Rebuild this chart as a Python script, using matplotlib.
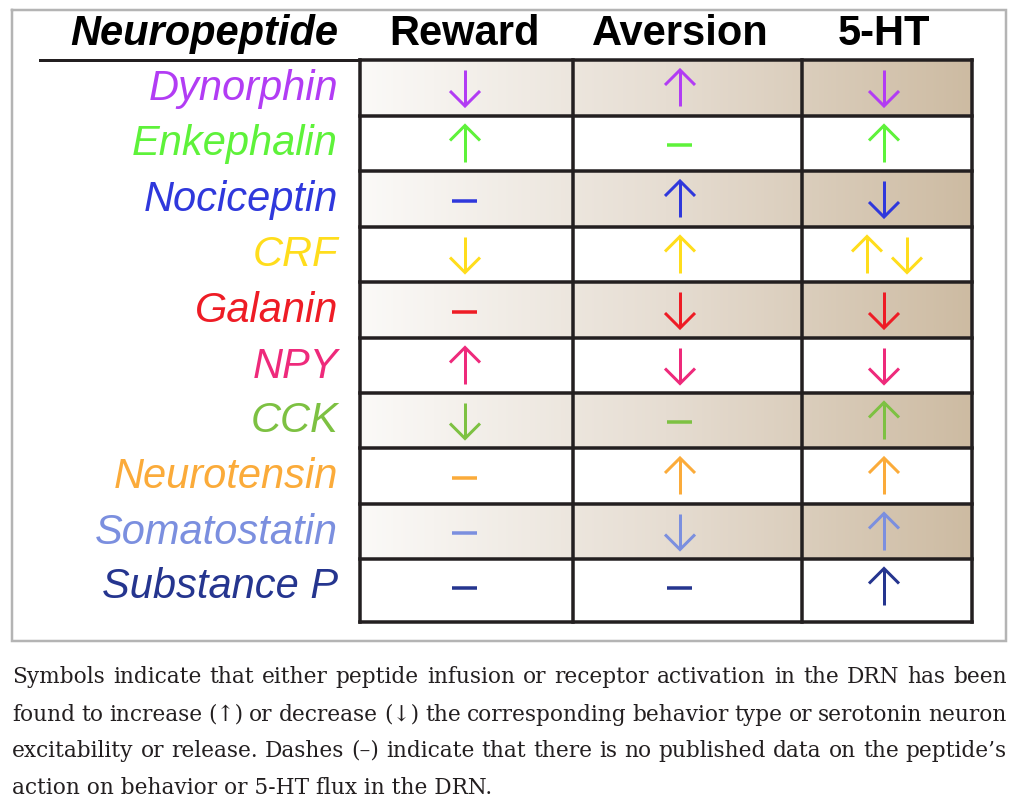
import matplotlib
matplotlib.use('Agg')
import matplotlib.pyplot as plt
import numpy as np
from matplotlib.colors import LinearSegmentedColormap

peptides = ['Dynorphin', 'Enkephalin', 'Nociceptin', 'CRF', 'Galanin',
            'NPY', 'CCK', 'Neurotensin', 'Somatostatin', 'Substance P']
peptideColors = ['#b23cf4', '#5ef23a', '#2f38dc', '#ffdd1c', '#ee1c25',
                 '#ee2a7b', '#7dc142', '#fbab3a', '#7b8fdf', '#25358f']
columns = ['Reward', 'Aversion', '5-HT']
reward = ['down', 'up', 'dash', 'down', 'dash', 'up', 'down', 'dash', 'dash', 'dash']
aversion = ['up', 'dash', 'up', 'up', 'down', 'down', 'dash', 'up', 'down', 'dash']
serotonin = ['down', 'up', 'down', 'updown', 'down', 'down', 'up', 'up', 'up', 'up']
shaded = [True, False, True, False, True, False, True, False, True, False]

caption = [
    "Symbols indicate that either peptide infusion or receptor activation in the DRN has been",
    "found to increase (\u2191) or decrease (\u2193) the corresponding behavior type or serotonin neuron",
    "excitability or release. Dashes (\u2013) indicate that there is no published data on the peptide\u2019s",
    "action on behavior or 5-HT flux in the DRN.",
]

# layout in pixels
W, H = 1019, 808
colEdges = [360, 573, 802, 972]
colMarks = [465, 680, 884]
rowEdges = [60, 116, 171, 227, 282, 338, 393, 448, 504, 559, 622]
labelRight = 338
inkColor = '#231f20'

fig = plt.figure(figsize=(W / 100, H / 100), dpi=100)
ax = fig.add_axes([0, 0, 1, 1])
ax.set_xlim(0, W)
ax.set_ylim(H, 0)
ax.axis('off')

px = 0.72  # points per pixel

# outer grey frame
ax.plot([12, 1006, 1006, 12, 12], [10, 10, 641, 641, 10], color='#b4b4b4',
        lw=2.5 * px, solid_joinstyle='miter')

# gradient on shaded rows
tan = LinearSegmentedColormap.from_list('tan', ['#fbfaf8', '#e6ddd2', '#cdbba2'])
grad = np.linspace(0, 1, 512).reshape(1, -1)
for i, s in enumerate(shaded):
    if s:
        ax.imshow(grad, cmap=tan, aspect='auto', interpolation='bilinear',
                  extent=[colEdges[0], colEdges[-1], rowEdges[i + 1], rowEdges[i]], zorder=1)
ax.set_xlim(0, W)
ax.set_ylim(H, 0)

# grid lines
for y in rowEdges:
    ax.plot([colEdges[0], colEdges[-1]], [y, y], color=inkColor, lw=3.5 * px,
            solid_capstyle='projecting', zorder=3)
for x in colEdges:
    ax.plot([x, x], [rowEdges[0], rowEdges[-1]], color=inkColor, lw=3.5 * px,
            solid_capstyle='projecting', zorder=3)
ax.plot([40, colEdges[0]], [rowEdges[0], rowEdges[0]], color=inkColor, lw=3 * px, zorder=3)

# headers
ax.text(labelRight, 45, 'Neuropeptide', ha='right', va='baseline', fontsize=30,
        fontweight='bold', fontstyle='italic', family='Liberation Sans')
for x, name in zip(colMarks, columns):
    ax.text(x, 45, name, ha='center', va='baseline', fontsize=30,
            fontweight='bold', family='Liberation Sans')


def arrow(x, yc, direction, color):
    half, head = 18, 15
    if direction == 'up':
        tip, tail, sgn = yc - half, yc + half, 1
    else:
        tip, tail, sgn = yc + half, yc - half, -1
    ax.plot([x, x], [tail, tip + sgn * 1], color=color, lw=3 * px,
            solid_capstyle='butt', zorder=4)
    ax.plot([x - head, x, x + head], [tip + sgn * head, tip, tip + sgn * head],
            color=color, lw=3 * px, solid_joinstyle='miter', solid_capstyle='butt', zorder=4)


def mark(x, yc, kind, color):
    if kind == 'dash':
        ax.plot([x - 12.5, x + 12.5], [yc + 1.5, yc + 1.5], color=color, lw=3.5 * px,
                solid_capstyle='butt', zorder=4)
    elif kind == 'updown':
        arrow(x - 17, yc, 'up', color)
        arrow(x + 23, yc, 'down', color)
    else:
        arrow(x, yc, kind, color)


for i, name in enumerate(peptides):
    yc = (rowEdges[i] + rowEdges[i + 1]) / 2
    if i == len(peptides) - 1:
        yc = (rowEdges[i] + rowEdges[i] + 55) / 2
    ax.text(labelRight, yc + 12, name, ha='right', va='baseline', fontsize=30,
            fontstyle='italic', color=peptideColors[i], family='Liberation Sans')
    for x, col in zip(colMarks, [reward, aversion, serotonin]):
        mark(x, yc, col[i], peptideColors[i])

# justified caption
renderer = fig.canvas.get_renderer()
left, right = 12, 1007
baselines = [683, 721, 757, 794]
capFont = dict(fontsize=15.6, color='#231f20', family=['DejaVu Serif'])
for k, line in enumerate(caption):
    if k == len(caption) - 1:
        ax.text(left, baselines[k], line, ha='left', va='baseline', **capFont)
        continue
    words = line.split(' ')
    texts = [ax.text(0, baselines[k], w, ha='left', va='baseline', **capFont)
             for w in words]
    widths = [t.get_window_extent(renderer).width for t in texts]
    gap = (right - left - sum(widths)) / (len(words) - 1)
    x = left
    for t, w in zip(texts, widths):
        t.set_x(x)
        x += w + gap

fig.savefig('out.png', dpi=100)
